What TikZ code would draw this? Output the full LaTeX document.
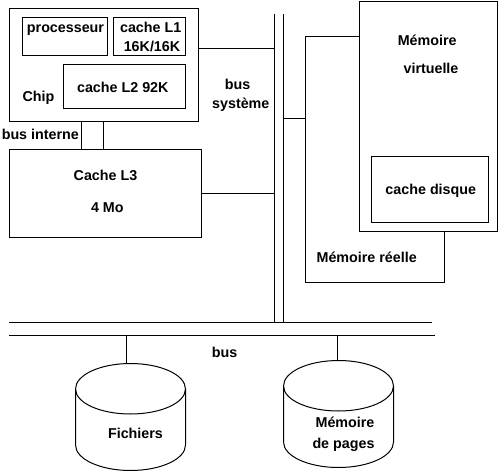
\documentclass[tikz,border=0pt]{standalone}
\usepackage{fontspec}
\setmainfont{Liberation Sans}
\tikzset{
  boite/.style={draw, fill=white, rectangle, outer sep=0pt, inner sep=0pt},
  texte/.style={anchor=base, inner sep=0pt, font=\fontsize{14.3}{15}\selectfont\bfseries},
}
\begin{document}
\begin{tikzpicture}[x=1pt, y=-1pt, line width=1pt]
  \useasboundingbox (0,0) rectangle (499,472);
  % puce et caches
  \node[boite, minimum width=188.5pt, minimum height=112.5pt] (chip) at (103.75,64.75) {};
  \node[boite, minimum width=85pt, minimum height=37.5pt] (proc) at (65,36.25) {};
  \node[boite, minimum width=71.5pt, minimum height=37.5pt] (cachea) at (149.25,36.25) {};
  \node[boite, minimum width=121.5pt, minimum height=43.5pt] (cacheb) at (124.25,86.25) {};
  \node[boite, minimum width=192pt, minimum height=88pt] (cachec) at (105.5,193.5) {};
  % bus interne
  \draw (81.5,0 |- chip.south) -- (81.5,0 |- cachec.north);
  \draw (103.5,0 |- chip.south) -- (103.5,0 |- cachec.north);
  % bus systeme
  \coordinate (sysah) at (274.5,14);
  \coordinate (sysab) at (274.5,322.5);
  \coordinate (sysbh) at (283.5,14);
  \coordinate (sysbb) at (283.5,322.5);
  \draw (sysah) -- (sysab);
  \draw (sysbh) -- (sysbb);
  \draw (chip.east |- 0,48.5) -- (sysah |- 0,48.5);
  \draw (cachec.east) -- (cachec.east -| sysah);
  % memoires
  \node[boite, minimum width=139pt, minimum height=246pt] (reelle) at (375,159.5) {};
  \node[boite, minimum width=138pt, minimum height=229.5pt] (virtuelle) at (428.5,116.25) {};
  \node[boite, minimum width=117pt, minimum height=66pt] (disque) at (430,189.5) {};
  \draw (sysbh |- 0,118.5) -- (reelle.west |- 0,118.5);
  % bus du bas
  \coordinate (busag) at (9,322.5);
  \coordinate (busad) at (432,322.5);
  \coordinate (busbg) at (9,335.5);
  \coordinate (busbd) at (435,335.5);
  \draw (busag) -- (busad);
  \draw (busbg) -- (busbd);
  % disques
  \foreach \nom/\cx/\cy/\px in {fichiers/130.5/389/126.5, pages/338.5/386/337.5} {
    \draw (\cx-55,\cy) arc[start angle=180, end angle=360, x radius=55, y radius=25.5];
    \draw (\cx-55,\cy) arc[start angle=180, end angle=0, x radius=55, y radius=25];
    \draw (\cx-55,\cy) -- (\cx-55,\cy+56) arc[start angle=180, end angle=0, x radius=55, y radius=25.5] -- (\cx+55,\cy);
    \coordinate (\nom) at (\px,\cy-25);
    \draw (\nom) -- (\nom |- busbg);
  }
  % textes
  \node[texte] (tproc) at (65.5,32.7) {processeur};
  \node[texte] (tcachea) at (150.7,32.7) {cache L1};
  \node[texte] (tcacheat) at (152,51.7) {16K/16K};
  \node[texte] (tcacheb) at (122.8,92.7) {cache L2 92K};
  \node[texte] (tchip) at (38.5,101.7) {Chip};
  \node[texte] (tinterne) at (40.3,139.3) {bus interne};
  \node[texte] (tcachec) at (105.5,180.7) {Cache L3};
  \node[texte] (tcachect) at (107.3,212.7) {4 Mo};
  \node[texte] (tbus) at (237.5,89.3) {bus};
  \node[texte] (tsysteme) at (240.8,108.3) {système};
  \node[texte] (tmem) at (427.2,45.7) {Mémoire};
  \node[texte] (tvirt) at (431,73.7) {virtuelle};
  \node[texte] (tdisque) at (430.8,194) {cache disque};
  \node[texte] (treelle) at (366.7,262.7) {Mémoire réelle};
  \node[texte] (tbusb) at (224.5,357.7) {bus};
  \node[texte] (tfich) at (135.5,438.7) {Fichiers};
  \node[texte] (tmemp) at (345,427) {Mémoire};
  \node[texte] (tpages) at (343.5,448.7) {de pages};
\end{tikzpicture}
\end{document}
